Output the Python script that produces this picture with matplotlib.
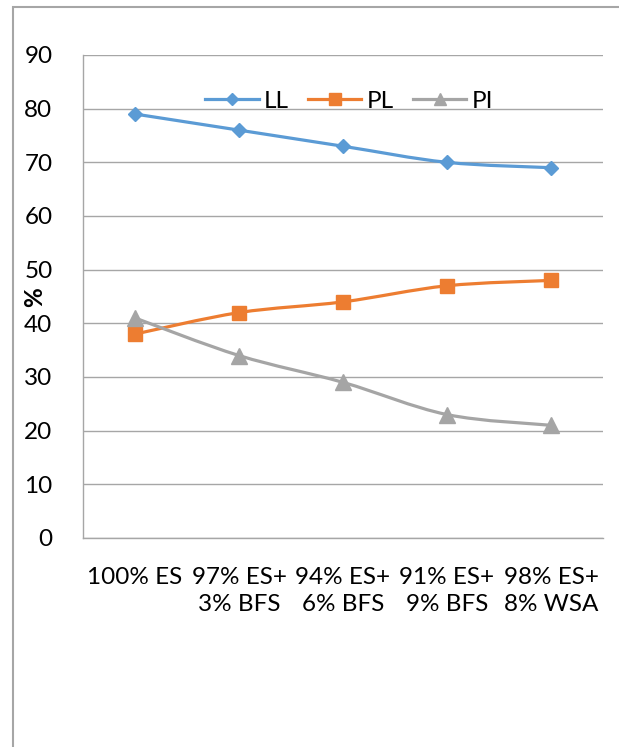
import numpy as np
import matplotlib.pyplot as plt
from matplotlib.path import Path
from matplotlib.patches import PathPatch, Rectangle
from matplotlib.lines import Line2D

plt.rcParams['font.family'] = ['Lato', 'DejaVu Sans']

mixes = ['100% ES', '97% ES+\n3% BFS', '94% ES+\n6% BFS', '91% ES+\n9% BFS', '98% ES+\n8% WSA']
LL = [79, 76, 73, 70, 69]
PL = [38, 42, 44, 47, 48]
PI = [41, 34, 29, 23, 21]

series = [('LL', LL, '#5B9BD5', 'D', 7),
          ('PL', PL, '#ED7D31', 's', 10),
          ('PI', PI, '#A5A5A5', '^', 11)]

FS = 17.5


def smooth_path(x, y):
    # cubic bezier through the points, like a spreadsheet "smoothed line"
    pts = np.column_stack([x, y]).astype(float)
    ext = np.vstack([pts[0], pts, pts[-1]])
    verts = [pts[0]]
    codes = [Path.MOVETO]
    for i in range(len(pts) - 1):
        p0, p1, p2, p3 = ext[i], ext[i + 1], ext[i + 2], ext[i + 3]
        c1 = p1 + (p2 - p0) / 6.0
        c2 = p2 - (p3 - p1) / 6.0
        verts += [c1, c2, p2]
        codes += [Path.CURVE4] * 3
    return Path(verts, codes)


fig = plt.figure(figsize=(6.19, 7.47), dpi=100)
ax = fig.add_axes([83 / 619, 1 - 538 / 747, 520 / 619, 483 / 747])

x = np.arange(len(mixes))
handles = []
for name, vals, col, mk, ms in series:
    ax.add_patch(PathPatch(smooth_path(x, vals), facecolor='none', edgecolor=col,
                           lw=2.3, capstyle='round', joinstyle='round', zorder=3))
    ax.plot(x, vals, linestyle='none', marker=mk, markersize=ms, color=col, zorder=4)
    handles.append(Line2D([], [], color=col, lw=2.3, marker=mk, markersize=ms * 0.85, label=name))

ax.set_xlim(-0.5, len(mixes) - 0.5)
ax.set_ylim(0, 90)
ax.set_yticks(range(0, 91, 10))
ax.set_xticks(x)
ax.set_xticklabels(mixes, linespacing=1.35)
ax.tick_params(axis='both', length=0, labelsize=FS)
ax.tick_params(axis='y', pad=22)
ax.tick_params(axis='x', pad=21)
ax.yaxis.grid(True, color='#a6a6a6', lw=1)
ax.set_axisbelow(True)
for s in ['top', 'right']:
    ax.spines[s].set_visible(False)
for s in ['left', 'bottom']:
    ax.spines[s].set_color('#a6a6a6')
    ax.spines[s].set_linewidth(1)

fig.text(35 / 619, 1 - 297 / 747, '%', rotation=90, fontsize=FS, fontweight='bold',
         ha='center', va='center')

ax.legend(handles=handles, loc='center', ncol=3, frameon=False, fontsize=FS,
          bbox_to_anchor=(349 / 619, 1 - 101 / 747), bbox_transform=fig.transFigure,
          handlelength=2.2, handletextpad=0.2, columnspacing=0.8)

# outer chart border
fig.patches.append(Rectangle((13 / 619, -0.1), 1.2, 1 - 7 / 747 + 0.1, transform=fig.transFigure,
                             fill=False, edgecolor='#a6a6a6', lw=1.5))

fig.savefig('out.png', dpi=100)
